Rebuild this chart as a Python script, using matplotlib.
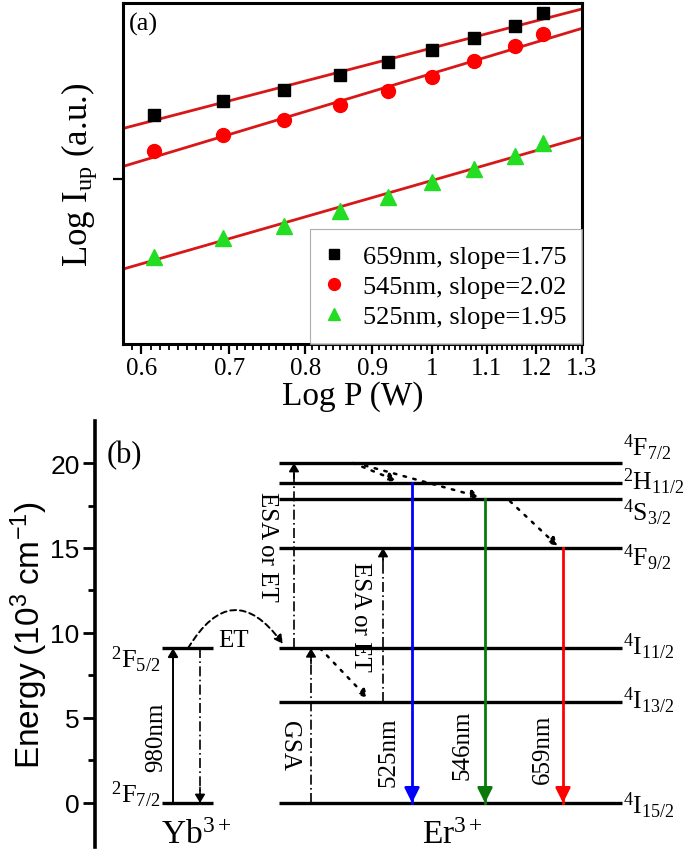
import matplotlib
matplotlib.use("Agg")
import matplotlib.pyplot as plt
import numpy as np
from matplotlib.ticker import FixedLocator, NullFormatter

plt.rcParams["font.family"] = ["Liberation Serif", "DejaVu Serif"]
plt.rcParams["mathtext.fontset"] = "custom"
plt.rcParams["mathtext.rm"] = "Liberation Serif"
plt.rcParams["mathtext.it"] = "Liberation Serif:italic"
plt.rcParams["mathtext.sf"] = "Liberation Sans"

# ---- panel (a): power dependence (log-log) ----
log_p_ticks = [0.6, 0.7, 0.8, 0.9, 1.0, 1.1, 1.2, 1.3]
log_p_labels = ["0.6", "0.7", "0.8", "0.9", "1", "1.1", "1.2", "1.3"]
power = [0.613, 0.693, 0.77, 0.85, 0.925, 1.0, 1.075, 1.155, 1.213]
i_659 = [2.321, 2.393, 2.449, 2.526, 2.592, 2.653, 2.714, 2.776, 2.842]
i_545 = [2.138, 2.219, 2.296, 2.372, 2.444, 2.515, 2.597, 2.673, 2.735]
i_525 = [1.602, 1.699, 1.760, 1.837, 1.908, 1.980, 2.046, 2.117, 2.179]
series_labels = ["659nm, slope=1.75", "545nm, slope=2.02", "525nm, slope=1.95"]

# ---- panel (b): energy levels (10^3 cm^-1) ----
yb_names = [r"$^{2}\mathrm{F}_{7/2}$", r"$^{2}\mathrm{F}_{5/2}$"]
yb_energy = [0.0, 9.1]
er_names = [r"$^{4}\mathrm{I}_{15/2}$", r"$^{4}\mathrm{I}_{13/2}$",
            r"$^{4}\mathrm{I}_{11/2}$", r"$^{4}\mathrm{F}_{9/2}$",
            r"$^{4}\mathrm{S}_{3/2}$", r"$^{2}\mathrm{H}_{11/2}$",
            r"$^{4}\mathrm{F}_{7/2}$"]
er_energy = [0.0, 5.94, 9.1, 15.0, 17.88, 18.82, 20.0]
emission_labels = ["525nm", "546nm", "659nm"]
emission_from = [5, 4, 3]          # index into er_energy
emission_colors = ["#0000ff", "#0a780a", "#ff0000"]

fig = plt.figure(figsize=(6.85, 8.54), dpi=100)

# ================= (a) =================
ax = fig.add_axes([0.1796, 0.596, 0.670, 0.3993])
ax.set_xscale("log")
xlo, xhi = 0.581, 1.3
xf = np.geomspace(xlo, xhi, 50)
for ys, mk, col, ms, lab in zip([i_659, i_545, i_525], ["s", "o", "^"],
                                ["black", "#ff0000", "#22dd22"], [9, 10, 11],
                                series_labels):
    k, b = np.polyfit(np.log10(power), ys, 1)
    ax.plot(xf, k * np.log10(xf) + b, color="#d81818", lw=2, zorder=2)
    ax.plot(power, ys, mk, color=col, ms=ms, mec=col, label=lab, zorder=3)
ax.set_xlim(xlo, xhi)
ax.set_ylim(1.158, 2.893)
ax.xaxis.set_major_locator(FixedLocator(log_p_ticks))
ax.set_xticklabels(log_p_labels)
ax.xaxis.set_minor_locator(FixedLocator(np.round(np.arange(0.59, 1.3, 0.01), 2)))
ax.xaxis.set_minor_formatter(NullFormatter())
ax.set_yticks([2.0])
ax.set_yticklabels([])
ax.tick_params(axis="both", which="major", direction="out", length=7, width=1.6,
               labelsize=18, pad=2)
ax.tick_params(axis="x", which="minor", direction="out", length=4, width=1.3)
for s in ax.spines.values():
    s.set_linewidth(2.2)
ax.set_xlabel("Log P (W)", fontsize=24, labelpad=1)
ax.set_ylabel(r"Log I$_{\mathrm{up}}$ (a.u.)", fontsize=25, labelpad=8)
ax.text(0.012, 0.975, "(a)", transform=ax.transAxes, fontsize=19,
        ha="left", va="top")
leg = ax.legend(loc="lower right", fontsize=19, frameon=True, fancybox=False,
                borderaxespad=0, handlelength=0.6, handletextpad=0.8,
                labelspacing=0.25, borderpad=0.6, markerscale=0.85)
leg.get_frame().set_edgecolor("#999999")
leg.get_frame().set_linewidth(0.8)

# ================= (b) =================
bx = fig.add_axes([0.1387, 0.00703, 0.8613, 0.4988])
bx.set_xlim(95, 685)
bx.set_ylim(-2.59, 22.47)
for side in ["top", "right", "bottom"]:
    bx.spines[side].set_visible(False)
bx.spines["left"].set_linewidth(2.6)
bx.set_xticks([])
bx.set_yticks([0, 5, 10, 15, 20])
bx.set_yticks(np.arange(2.5, 22.5, 5), minor=True)
bx.tick_params(axis="y", which="major", direction="out", length=9, width=2,
               labelsize=19, pad=2)
bx.tick_params(axis="y", which="minor", direction="out", length=5, width=2)
for t in bx.get_yticklabels():
    t.set_fontfamily("Liberation Sans")
bx.set_ylabel(r"$\mathsf{Energy\ (10^{3}\ cm^{-1})}$", fontsize=24, labelpad=0)
bx.text(107, 20.5, "(b)", fontsize=22, ha="left", va="center")

# levels
yb_x = (162, 213)
er_x = (279, 622)
for e in yb_energy:
    bx.plot(yb_x, [e, e], color="black", lw=2.4, solid_capstyle="butt")
for e in er_energy:
    bx.plot(er_x, [e, e], color="black", lw=2.4, solid_capstyle="butt")

yb_label_dy = [0.55, -0.6]
for name, e, dy in zip(yb_names, yb_energy, yb_label_dy):
    bx.text(160, e + dy, name, fontsize=19, ha="right", va="center")
er_label_dy = [-0.1, 0.1, 0.15, -0.55, -0.75, 0.1, 0.95]
for name, e, dy in zip(er_names, er_energy, er_label_dy):
    bx.text(623, e + dy, name, fontsize=18.5, ha="left", va="center")
bx.text(196, -1.85, r"Yb$^{3+}$", fontsize=24, ha="center", va="center")
bx.text(452, -1.85, r"Er$^{3+}$", fontsize=24, ha="center", va="center")


def arrow(x, y0, y1, color="black", ls="-", lw=1.5, head=0.5, hw=0.3):
    bx.plot([x, x], [y0, y1], color=color, ls=ls, lw=lw)
    d = np.sign(y1 - y0)
    bx.annotate("", xy=(x, y1), xytext=(x, y1 - d * 0.9),
                arrowprops=dict(arrowstyle=f"-|>,head_length={head},head_width={hw}",
                                color=color, lw=lw, shrinkA=0, shrinkB=0))


# Yb absorption / ET return
arrow(173, yb_energy[0], yb_energy[1], lw=1.4)
arrow(200, yb_energy[1], yb_energy[0], ls=(0, (6, 2, 1, 2)), lw=1.2)
bx.text(156, 3.9, "980nm", fontsize=18, rotation=90, ha="center", va="center")
bx.text(218, 9.6, "ET", fontsize=18, ha="left", va="center")

# GSA and ESA
arrow(311, er_energy[0], er_energy[2], ls=(0, (6, 2, 1, 2)), lw=1.2)
bx.text(289, 3.4, "GSA", fontsize=18, rotation=-90, ha="center", va="center")
arrow(294, er_energy[2], er_energy[6], ls=(0, (6, 2, 1, 2)), lw=1.2)
bx.text(267, 15.1, "ESA or ET", fontsize=18, rotation=-90, ha="center", va="center")
arrow(383, er_energy[1], er_energy[3], ls=(0, (6, 2, 1, 2)), lw=1.2)
bx.text(360, 11.0, "ESA or ET", fontsize=18, rotation=-90, ha="center", va="center")

# energy transfer Yb -> Er (dashed arc)
bx.annotate("", xy=(283, 9.35), xytext=(188, yb_energy[1]),
            arrowprops=dict(arrowstyle="-|>,head_length=0.5,head_width=0.25",
                            connectionstyle="arc3,rad=-0.75", ls=(0, (3, 2)),
                            color="black", lw=1.4, shrinkA=0, shrinkB=0))

# non-radiative relaxations (dotted)
relax = [((320, er_energy[2]), (368, 6.15)),
         ((353, er_energy[6]), (397, 18.95)),
         ((365, 19.85), (480, 18.0)),
         ((510, 17.75), (558, 15.1))]
for (x0, y0), (x1, y1) in relax:
    bx.annotate("", xy=(x1, y1), xytext=(x0, y0),
                arrowprops=dict(arrowstyle="-|>,head_length=0.5,head_width=0.25",
                                ls=(0, (1, 3)), color="black", lw=1.8,
                                shrinkA=0, shrinkB=0))

# radiative emissions
emission_x = [412, 485, 563]
label_x = [388, 462, 543]
label_y = [3.06, 3.47, 3.2]
for xe, lx, ly, src, col, lab in zip(emission_x, label_x, label_y,
                                     emission_from, emission_colors,
                                     emission_labels):
    arrow(xe, er_energy[src], er_energy[0], color=col, lw=2.0, head=0.9, hw=0.45)
    bx.text(lx, ly, lab, fontsize=18, rotation=90, ha="center", va="center")

fig.savefig("out.png", dpi=100)
